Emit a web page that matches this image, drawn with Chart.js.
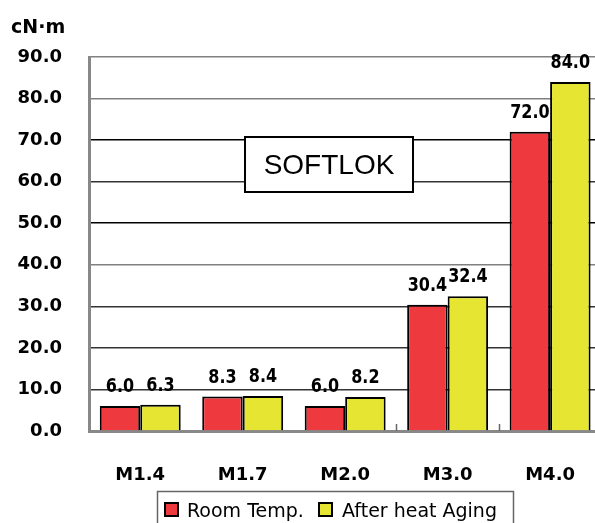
<!DOCTYPE html>
<html>
<head>
<meta charset="utf-8">
<script src="https://cdn.jsdelivr.net/npm/chart.js@4/dist/chart.umd.min.js"></script>
<style>
html,body{margin:0;padding:0;background:#fff;overflow:hidden;width:595px;height:523px;}
canvas{display:block;}
</style>
</head>
<body>
<canvas id="c" width="609" height="523"></canvas>
<script>
const categories = ["M1.4", "M1.7", "M2.0", "M3.0", "M4.0"];
const roomTemp = [6.0, 8.3, 6.0, 30.4, 72.0];
const afterAging = [6.3, 8.4, 8.2, 32.4, 84.0];
const seriesNames = ["Room Temp.", "After heat Aging"];
const unitLabel = "cN\u00B7m";
const titleText = "SOFTLOK";
const yMin = 0, yMax = 90, yStep = 10;

const RED = "#EE3A3F";
const YELLOW = "#E6E632";

const overlay = {
  id: "overlay",
  afterDatasetsDraw(chart) {
    const ctx = chart.ctx;
    const area = chart.chartArea;
    // inward ticks at the last category boundaries
    ctx.save();
    ctx.strokeStyle = "#666";
    ctx.lineWidth = 1.5;
    const n = categories.length;
    const step = (area.right - area.left) / n;
    for (let i = 3; i < n; i++) {
      const x = Math.round(area.left + step * i) + 0.5;
      ctx.beginPath();
      ctx.moveTo(x, area.bottom);
      ctx.lineTo(x, area.bottom - 7);
      ctx.stroke();
    }
    ctx.restore();
    // value labels
    ctx.save();
    ctx.fillStyle = "#000";
    ctx.font = "bold 16px 'DejaVu Sans'";
    ctx.textAlign = "center";
    ctx.textBaseline = "alphabetic";
    chart.data.datasets.forEach((ds, di) => {
      const meta = chart.getDatasetMeta(di);
      meta.data.forEach((bar, i) => {
        const txt = ds.data[i].toFixed(1);
        ctx.save();
        ctx.translate(bar.x, bar.y - 14);
        ctx.scale(1, 1.2);
        ctx.fillText(txt, 0, 0);
        ctx.restore();
      });
    });
    ctx.restore();
  },
  afterDraw(chart) {
    const ctx = chart.ctx;
    ctx.save();
    // unit label
    ctx.fillStyle = "#000";
    ctx.font = "bold 19px 'DejaVu Sans'";
    ctx.textAlign = "left";
    ctx.textBaseline = "alphabetic";
    ctx.fillText(unitLabel, 11, 33);
    // title box
    ctx.fillStyle = "#fff";
    ctx.fillRect(245, 137, 168, 55);
    ctx.strokeStyle = "#000";
    ctx.lineWidth = 2;
    ctx.strokeRect(245, 137, 168, 55);
    ctx.fillStyle = "#000";
    ctx.font = "28px 'Liberation Sans'";
    ctx.textAlign = "center";
    ctx.textBaseline = "middle";
    ctx.fillText(titleText, 329, 166);
    // legend
    ctx.strokeStyle = "#666";
    ctx.lineWidth = 1.5;
    ctx.beginPath();
    ctx.moveTo(157.5, 530);
    ctx.lineTo(157.5, 491.5);
    ctx.lineTo(513.5, 491.5);
    ctx.lineTo(513.5, 530);
    ctx.stroke();
    const items = [
      {sx: 165, tx: 187, color: RED, label: chart.data.datasets[0].label},
      {sx: 319, tx: 342, color: YELLOW, label: chart.data.datasets[1].label}
    ];
    ctx.font = "19px 'DejaVu Sans'";
    ctx.textAlign = "left";
    ctx.textBaseline = "alphabetic";
    items.forEach(it => {
      ctx.fillStyle = it.color;
      ctx.fillRect(it.sx, 503, 13, 13);
      ctx.strokeStyle = "#000";
      ctx.lineWidth = 2;
      ctx.strokeRect(it.sx, 503, 13, 13);
      ctx.fillStyle = "#000";
      ctx.fillText(it.label, it.tx, 517);
    });
    ctx.restore();
  }
};

new Chart(document.getElementById("c"), {
  type: "bar",
  data: {
    labels: categories,
    datasets: [
      {label: seriesNames[0], data: roomTemp, backgroundColor: RED, borderColor: "#000", borderWidth: 2, borderSkipped: "bottom"},
      {label: seriesNames[1], data: afterAging, backgroundColor: YELLOW, borderColor: "#000", borderWidth: 2, borderSkipped: "bottom"}
    ]
  },
  options: {
    responsive: false,
    animation: false,
    devicePixelRatio: 1,
    layout: {padding: {top: 57, left: 0, right: 0, bottom: 0}},
    plugins: {legend: {display: false}, tooltip: {enabled: false}, title: {display: false}},
    datasets: {bar: {categoryPercentage: 0.79, barPercentage: 1.0}},
    scales: {
      x: {
        offset: true,
        grid: {display: false, drawTicks: false},
        border: {display: true, color: "#888", width: 3},
        ticks: {color: "#000", font: {family: "DejaVu Sans", size: 18, weight: "bold"}, padding: 34},
        afterFit(s) { s.height = 92; }
      },
      y: {
        min: yMin, max: yMax,
        grid: {
          drawTicks: false,
          color(ctx) {
            const v = ctx.tick && ctx.tick.value;
            if (v === 0) return "rgba(0,0,0,0)";
            if (v === 90 || v === 80 || v === 40) return "#808080";
            if (v === 50 || v === 70) return "#000";
            return "#333";
          },
          lineWidth: 1.5
        },
        border: {display: true, color: "#888", width: 3},
        ticks: {
          stepSize: yStep,
          color: "#000",
          font: {family: "DejaVu Sans", size: 18, weight: "bold"},
          padding: 27,
          callback: v => Number(v).toFixed(1)
        },
        afterFit(s) { s.width = 89; }
      }
    }
  },
  plugins: [overlay]
});
</script>
</body>
</html>
